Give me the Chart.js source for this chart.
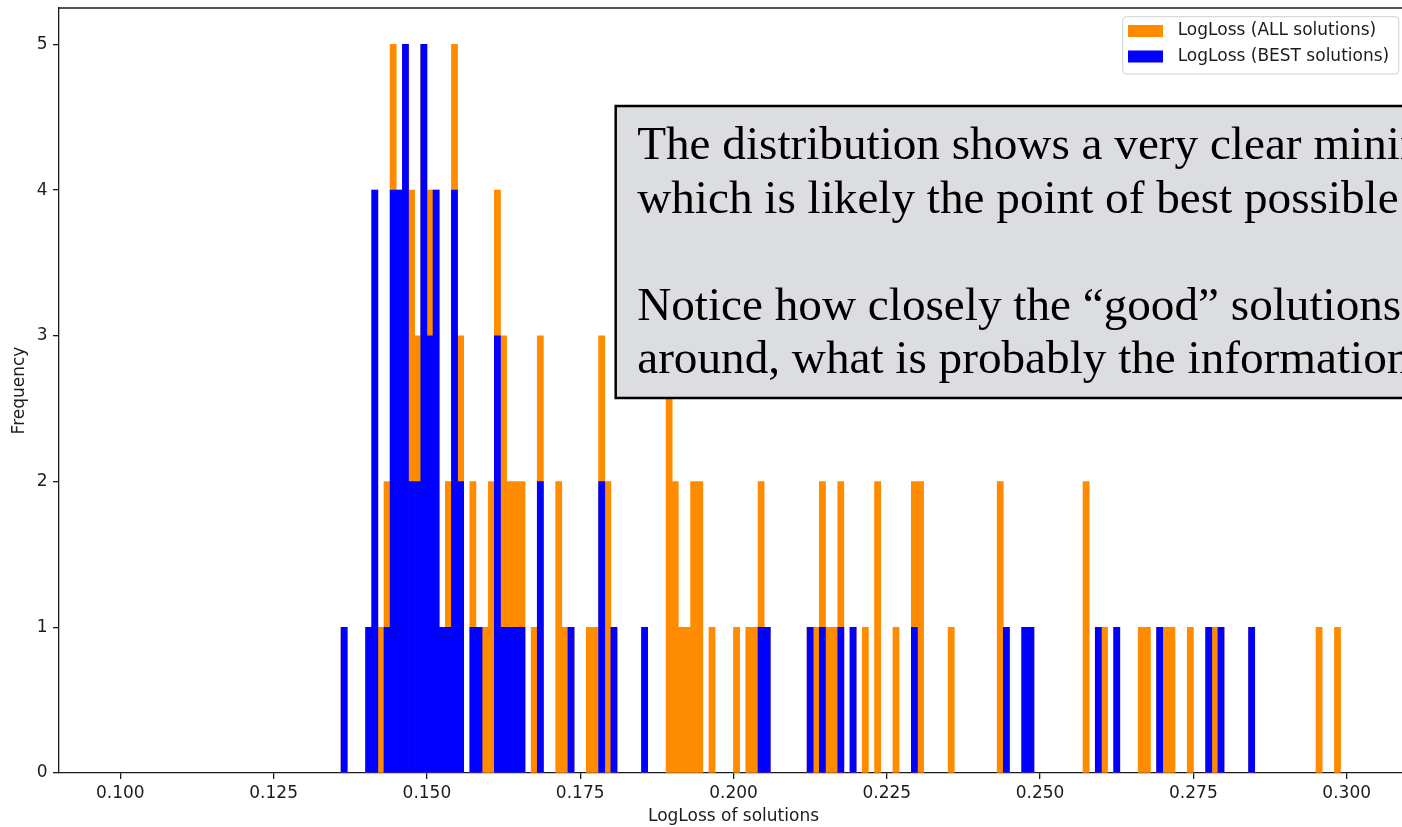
<!DOCTYPE html>
<html>
<head>
<meta charset="utf-8">
<script src="https://cdn.jsdelivr.net/npm/chart.js@4.4.1/dist/chart.umd.min.js"></script>
<style>
  html, body { margin: 0; padding: 0; background: #fff; overflow: hidden; }
  #wrap { position: relative; width: 1420px; height: 827px; }
</style>
</head>
<body>
<div id="wrap"><canvas id="hist"></canvas></div>
<script>
// histogram bins are 0.001 wide, listed by their lower edge (empty bins left out)
const BIN_WIDTH = 0.001;

const allBinStart = [
  0.136, 0.140, 0.141, 0.142, 0.143, 0.144, 0.145, 0.146, 0.147, 0.148,
  0.149, 0.150, 0.151, 0.152, 0.153, 0.154, 0.155, 0.157, 0.158, 0.159,
  0.160, 0.161, 0.162, 0.163, 0.164, 0.165, 0.167, 0.168, 0.171, 0.172,
  0.173, 0.176, 0.177, 0.178, 0.179, 0.180, 0.185, 0.189, 0.190, 0.191,
  0.192, 0.193, 0.194, 0.196, 0.200, 0.202, 0.203, 0.204, 0.205, 0.212,
  0.213, 0.214, 0.215, 0.216, 0.217, 0.219, 0.221, 0.223, 0.226, 0.229,
  0.230, 0.235, 0.243, 0.244, 0.247, 0.248, 0.257, 0.259, 0.260, 0.262,
  0.266, 0.267, 0.269, 0.270, 0.271, 0.274, 0.277, 0.278, 0.279, 0.284,
  0.295, 0.298
];
const allCount = [
  1, 1, 4, 1, 2, 5, 4, 5, 4, 3,
  5, 4, 4, 1, 2, 5, 3, 2, 1, 1,
  2, 4, 3, 2, 2, 2, 1, 3, 2, 1,
  1, 1, 1, 3, 2, 1, 1, 3, 2, 1,
  1, 2, 2, 1, 1, 1, 1, 2, 1, 1,
  1, 2, 1, 1, 2, 1, 1, 2, 1, 2,
  2, 1, 2, 1, 1, 1, 2, 1, 1, 1,
  1, 1, 1, 1, 1, 1, 1, 1, 1, 1,
  1, 1
];

const bestBinStart = [
  0.136, 0.140, 0.141, 0.143, 0.144, 0.145, 0.146, 0.147, 0.148, 0.149,
  0.150, 0.151, 0.152, 0.153, 0.154, 0.155, 0.157, 0.158, 0.161, 0.162,
  0.163, 0.164, 0.165, 0.168, 0.173, 0.178, 0.180, 0.185, 0.204, 0.205,
  0.212, 0.214, 0.217, 0.219, 0.229, 0.244, 0.247, 0.248, 0.259, 0.262,
  0.269, 0.277, 0.279, 0.284
];
const bestCount = [
  1, 1, 4, 1, 4, 4, 5, 2, 2, 5,
  3, 4, 1, 1, 4, 2, 1, 1, 3, 1,
  1, 1, 1, 2, 1, 2, 1, 1, 1, 1,
  1, 1, 1, 1, 1, 1, 1, 1, 1, 1,
  1, 1, 1, 1
];

const xTicks = [0.100, 0.125, 0.150, 0.175, 0.200, 0.225, 0.250, 0.275, 0.300];
const yTicks = [0, 1, 2, 3, 4, 5];

const noteLines = [
  'The distribution shows a very clear minimum,',
  'which is likely the point of best possible',
  '',
  'Notice how closely the \u201cgood\u201d solutions',
  'around, what is probably the information'
];

const ORANGE = '#ff8c00';
const BLUE = '#0000ff';
const INK = '#1c1c1c';
const FONT_SIZE = 17;

Chart.defaults.font.family = "'DejaVu Sans', sans-serif";
Chart.defaults.font.size = FONT_SIZE;
Chart.defaults.color = INK;

const toBars = (starts, counts) =>
  starts.map((s, i) => ({ x: s + BIN_WIDTH / 2, y: counts[i] }));

// top and right spines
const frame = {
  id: 'frame',
  afterDatasetsDraw(chart) {
    const { ctx, chartArea: a } = chart;
    ctx.save();
    ctx.strokeStyle = INK;
    ctx.lineWidth = 1.3;
    ctx.beginPath();
    ctx.moveTo(a.left, a.top);
    ctx.lineTo(a.right, a.top);
    ctx.lineTo(a.right, a.bottom);
    ctx.stroke();
    ctx.restore();
  }
};

// grey annotation box with the comment text
const noteBox = {
  id: 'noteBox',
  afterDatasetsDraw(chart) {
    const { ctx, chartArea: a } = chart;
    const left = a.left + 556.7, top = 106, bottom = 398;
    ctx.save();
    ctx.fillStyle = '#dcdde0';
    ctx.strokeStyle = '#000';
    ctx.lineWidth = 2.5;
    ctx.fillRect(left, top, 900, bottom - top);
    ctx.strokeRect(left, top, 900, bottom - top);
    ctx.fillStyle = '#000';
    ctx.font = "47.2px 'Liberation Serif', serif";
    ctx.textBaseline = 'alphabetic';
    noteLines.forEach((line, i) => {
      ctx.fillText(line, left + 21.5, 159 + i * 53.5);
    });
    ctx.restore();
  }
};

// legend in the upper right corner of the axes
const legendBox = {
  id: 'legendBox',
  afterDraw(chart) {
    const { ctx, chartArea: a } = chart;
    const w = 276, h = 57.3;
    const x = a.right - 9.3 - w, y = a.top + 8.7;
    ctx.save();
    ctx.beginPath();
    ctx.roundRect(x, y, w, h, 3.5);
    ctx.fillStyle = 'rgba(255,255,255,0.8)';
    ctx.fill();
    ctx.strokeStyle = '#d0d0d0';
    ctx.lineWidth = 1;
    ctx.stroke();
    ctx.font = FONT_SIZE + "px 'DejaVu Sans', sans-serif";
    ctx.textBaseline = 'middle';
    chart.data.datasets.forEach((ds, i) => {
      const cy = y + 14.3 + i * 25.5;
      ctx.fillStyle = ds.backgroundColor;
      ctx.fillRect(x + 5.3, cy - 6, 35, 12);
      ctx.fillStyle = INK;
      ctx.fillText(ds.label, x + 55, cy);
    });
    ctx.restore();
  }
};

new Chart(document.getElementById('hist'), {
  type: 'bar',
  data: {
    datasets: [
      {
        label: 'LogLoss (ALL solutions)',
        data: toBars(allBinStart, allCount),
        backgroundColor: ORANGE,
        order: 2
      },
      {
        label: 'LogLoss (BEST solutions)',
        data: toBars(bestBinStart, bestCount),
        backgroundColor: BLUE,
        order: 1
      }
    ]
  },
  options: {
    responsive: true,
    maintainAspectRatio: false,
    animation: false,
    layout: { padding: { left: 0, top: 8, right: 12, bottom: 0 } },
    datasets: {
      bar: {
        grouped: false,
        barPercentage: 1,
        categoryPercentage: 1,
        borderWidth: 0
      }
    },
    plugins: {
      legend: { display: false },
      tooltip: { enabled: false }
    },
    scales: {
      x: {
        type: 'linear',
        min: 0.09,
        max: 0.31,
        offset: false,
        afterBuildTicks: s => { s.ticks = xTicks.map(v => ({ value: v })); },
        afterFit: s => { s.height = 54; s.paddingLeft = 0; s.paddingRight = 0; },
        ticks: {
          autoSkip: false,
          maxRotation: 0,
          padding: 4,
          callback: v => v.toFixed(3)
        },
        grid: { offset: false, drawOnChartArea: false, tickLength: 6, color: INK, lineWidth: 1.3 },
        border: { color: INK, width: 1.3 },
        title: { display: true, text: 'LogLoss of solutions', padding: { top: 0, bottom: 0 } }
      },
      y: {
        min: 0,
        max: 5.25,
        afterBuildTicks: s => { s.ticks = yTicks.map(v => ({ value: v })); },
        afterFit: s => { s.width = 59; s.paddingTop = 0; s.paddingBottom = 0; },
        ticks: { padding: 5.5 },
        grid: { drawOnChartArea: false, tickLength: 6, color: INK, lineWidth: 1.3 },
        border: { color: INK, width: 1.3 },
        title: { display: true, text: 'Frequency', padding: { top: 9, bottom: 0 } }
      }
    }
  },
  plugins: [frame, noteBox, legendBox]
});
</script>
</body>
</html>
